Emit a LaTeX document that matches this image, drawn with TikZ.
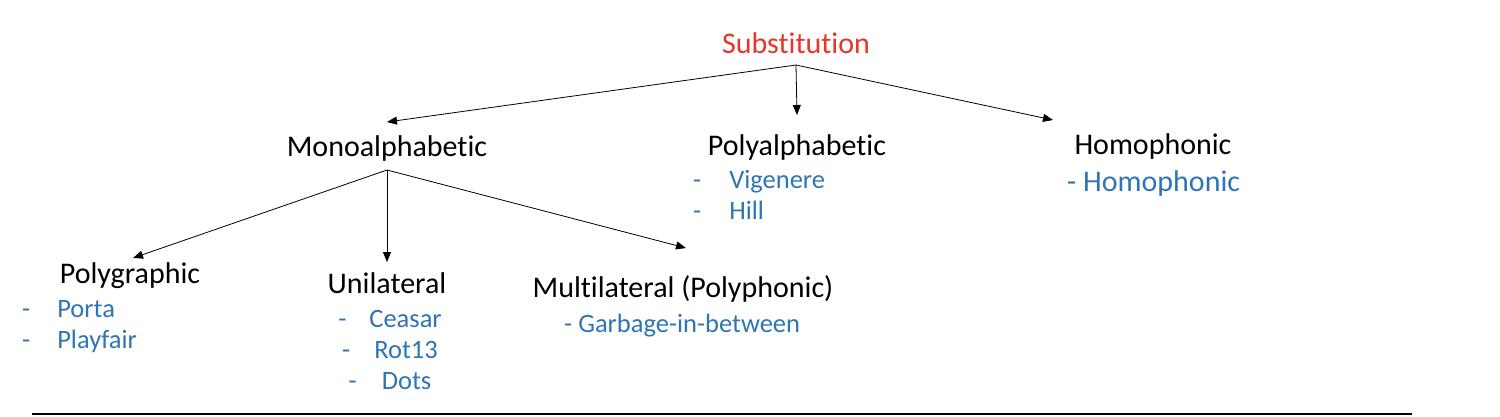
\documentclass[tikz,border=0pt]{standalone}
\usepackage{fontspec}
\setmainfont{Carlito}[Ligatures=NoCommon]
\usetikzlibrary{arrows.meta,positioning}
\definecolor{SubRed}{HTML}{E5362B}
\definecolor{ItemBlue}{HTML}{2E75B6}

\begin{document}
\begin{tikzpicture}[x=1pt,y=-1pt,
head/.style={inner sep=0pt,anchor=base,font=\fontsize{30}{36}\selectfont},
items/.style={inner sep=0pt,text=ItemBlue,font=\fontsize{26.5}{31}\selectfont},
arr/.style={-{Triangle[length=10pt,width=8pt]},line width=0.8pt,draw=black}]
\useasboundingbox (0,0) rectangle (1500,416);
% headings
\node[head,text=SubRed] (sub) at (796,53) {Substitution};
\node[head] (mono) at (387,156) {Monoalphabetic};
\node[head] (polya) at (797,155) {Polyalphabetic};
\node[head] (homo) at (1153,154) {Homophonic};
\node[head] (polyg) at (130,283) {Polygraphic};
\node[head] (uni) at (387,293) {Unilateral};
\node[head] (multi) at (683,297) {Multilateral (Polyphonic)};
% examples
\node[items,anchor=base west] (vig) at (693,188)
  {\begin{tabular}[t]{@{}l@{\hspace{28pt}}l@{}}- & Vigenere\\- & Hill\end{tabular}};
\node[items,anchor=base west,font=\fontsize{30}{36}\selectfont] (homoex) at (1067,191) {- Homophonic};
\node[items,anchor=base west] (porta) at (22,317)
  {\begin{tabular}[t]{@{}l@{\hspace{27pt}}l@{}}- & Porta\\- & Playfair\end{tabular}};
\node[items,anchor=base] (ceasar) at (390,327)
  {\begin{tabular}[t]{@{}c@{}}-\hspace{23pt}Ceasar\\-\hspace{24pt}Rot13\\-\hspace{25pt}Dots\end{tabular}};
\node[items,anchor=base west] (garb) at (564,332) {- Garbage-in-between};
% arrows
\coordinate (subfork) at ([yshift=-12pt]sub.base);
\coordinate (monofork) at ([yshift=-14pt]mono.base);
\draw[arr] (subfork) -- ([yshift=34pt]mono.base);
\draw[arr] (subfork) -- ([yshift=40pt]polya.base);
\draw[arr] (subfork) -- ([xshift=-100pt,yshift=34pt]homo.base);
\draw[arr] (monofork) -- ([xshift=3pt,yshift=25pt]polyg.base);
\draw[arr] (monofork) -- ([yshift=31pt]uni.base);
\draw[arr] (monofork) -- ([xshift=3pt,yshift=49pt]multi.base);
\draw[line width=1.5pt] (32,414) -- (1412,414);
\end{tikzpicture}
\end{document}
